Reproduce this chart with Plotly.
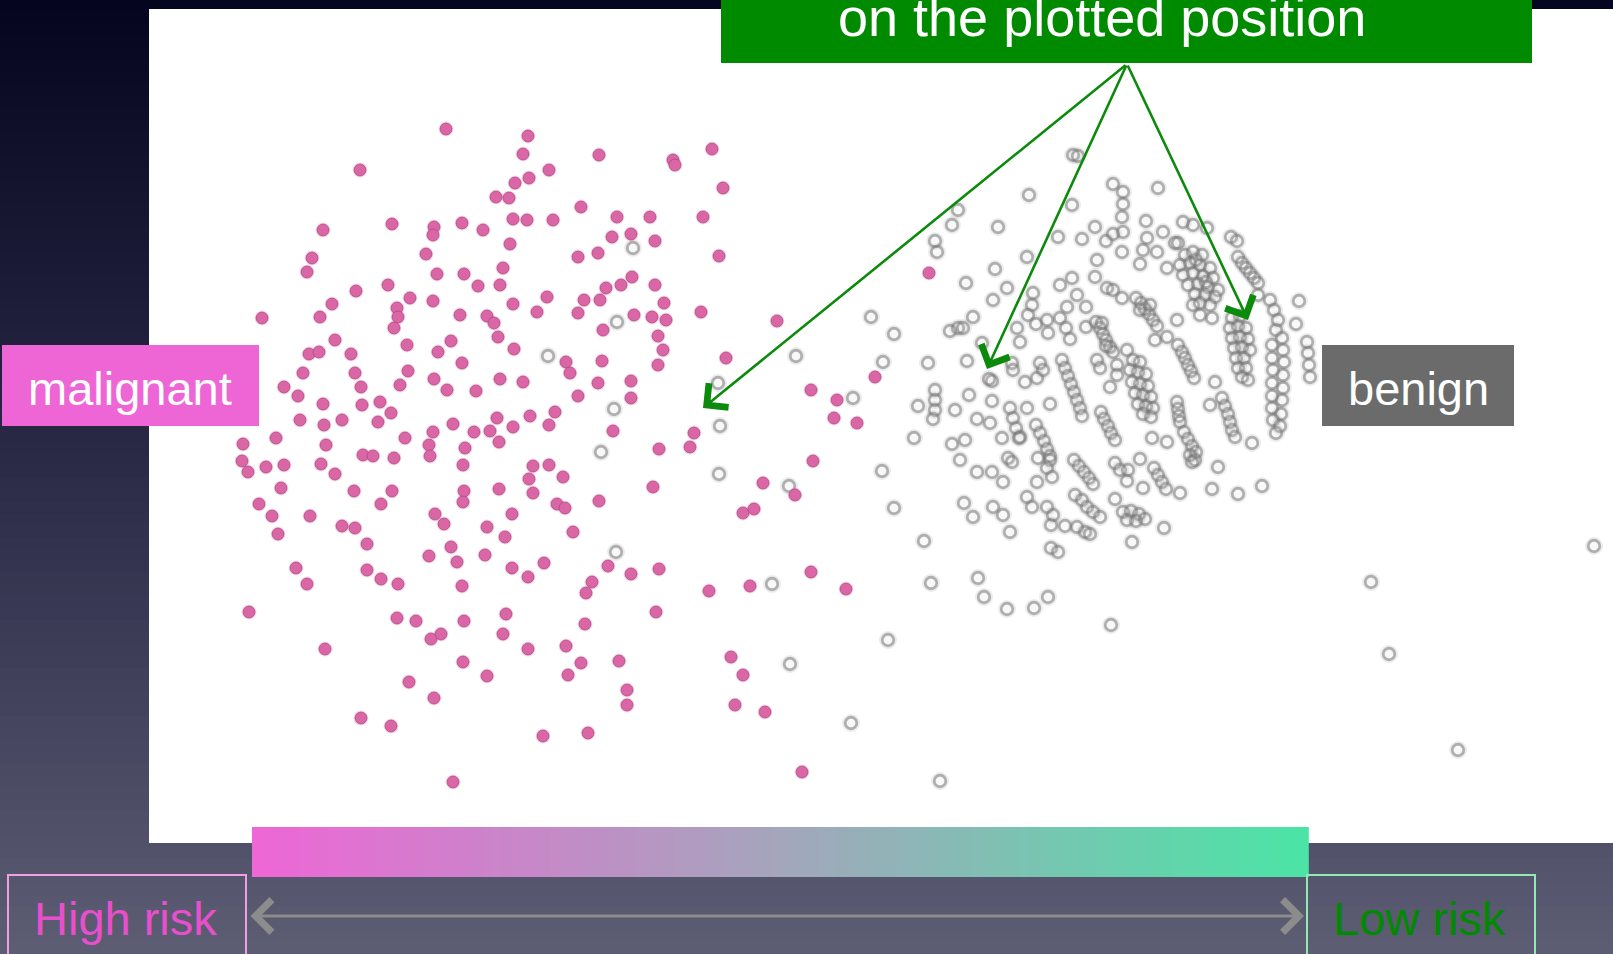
import plotly.graph_objects as go

W, H = 1613, 954

# ---- data (positions of each projected sample) ----
malignant_xy = [
    (446,129),(528,136),(523,154),(360,170),(549,170),(515,183),(529,178),(496,197),(509,198),(581,207),
    (323,230),(392,224),(434,227),(433,235),(462,223),(483,230),(513,219),(527,220),(553,220),(510,244),
    (426,254),(312,258),(307,272),(578,257),(437,274),(464,274),(503,268),(478,286),(500,285),(388,285),
    (356,291),(410,298),(433,301),(397,308),(398,317),(394,328),(332,304),(320,317),(262,318),(460,315),
    (487,316),(494,323),(513,304),(547,297),(537,312),(578,313),(584,300),(335,340),(309,354),(319,352),
    (407,345),(438,352),(451,341),(498,337),(514,349),(351,354),(566,362),(570,373),(303,373),(355,373),
    (408,371),(462,363),(434,379),(500,379),(523,382),(284,387),(298,396),(361,387),(400,385),(447,390),
    (476,391),(578,396),(323,404),(362,405),(380,402),(391,413),(300,420),(324,425),(342,420),(378,422),
    (453,424),(474,432),(490,431),(497,418),(513,427),(530,416),(555,412),(549,425),(433,432),(429,445),
    (276,438),(243,444),(326,445),(405,438),(465,448),(499,442),
    (242,461),(248,472),(266,467),(284,465),(321,464),(335,474),(363,455),(373,456),(394,458),(430,456),
    (463,465),(281,488),(354,491),(392,491),(259,504),(272,516),(310,516),(278,534),(381,504),(342,526),
    (355,528),(367,544),(435,514),(444,524),(464,491),(463,502),(499,489),(533,466),(549,465),(563,477),
    (529,479),(533,493),(557,504),(565,508),(512,514),(487,527),(505,537),(573,532),(451,547),(429,556),
    (457,562),(485,555),(512,568),(528,577),(544,563),(296,568),(307,584),(367,570),(381,579),(398,584),
    (462,586),(592,582),(586,593),(249,612),(397,618),(416,621),(431,639),(441,634),(464,621),(506,614),
    (503,634),(585,624),(325,649),(528,649),(566,646),(581,663),(568,675),(463,662),(487,676),(409,682),
    (434,698),(361,718),(391,726),(543,736),(588,733),(453,782),
    (599,155),(673,160),(675,165),(712,149),(723,188),(617,217),(650,217),(703,217),(612,237),(631,234),
    (655,241),(719,256),(598,253),(632,277),(621,285),(606,288),(655,285),(600,300),(664,303),(634,315),
    (652,317),(666,320),(701,312),(603,330),(658,336),(663,350),(658,365),(602,361),(726,358),(598,383),
    (631,381),(631,398),(613,431),(659,449),(694,433),(690,447),(777,321),(929,273),(875,377),(811,390),
    (837,400),(834,418),(857,423),
    (813,461),(653,487),(599,501),(763,483),(795,495),(743,513),(754,509),(608,566),(631,574),(659,569),
    (709,591),(750,586),(811,572),(846,589),(656,612),(619,661),(731,657),(743,675),(627,690),(627,705),
    (735,705),(765,712),(802,772),
]

benign_xy = [
    (548,356),(633,248),(617,322),(718,383),(614,409),(720,426),(601,452),(796,356),(871,317),(894,334),
    (883,362),(928,363),(853,398),(918,406),(935,390),(935,400),(935,410),(933,419),(914,438),(952,444),
    (955,410),(952,225),(958,210),(935,241),(937,252),(950,331),(958,328),(719,474),(789,486),(882,471),
    (894,508),(960,460),(924,541),(616,552),(772,584),(931,583),(888,640),(790,664),(851,723),(940,781),
    (1073,155),(1078,156),(1029,195),(1113,184),(1123,192),(1123,204),(1122,217),(1123,232),(1158,188),
    (1072,205),(998,227),(1058,237),(1082,239),(1095,227),(1106,241),(1113,234),(1122,252),(1146,221),
    (1163,232),(1183,222),(1193,225),(1207,228),(1147,238),(1143,250),(1157,252),(1167,268),(1175,243),
    (1178,243),(1140,264),(1231,237),(1237,241),(1027,257),(1097,260),(995,269),(966,283),(1007,288),
    (993,300),(1060,285),(1072,278),(1095,277),(1077,295),(1086,307),(1067,307),(1033,293),(1032,305),
    (1028,315),(1107,288),(1113,290),(1122,298),(973,317),(963,328),(1036,324),(1047,320),(1048,333),
    (1060,318),(1066,328),(1070,339),(1086,327),(1017,328),(1020,342),(982,343),(967,361),(992,381),
    (989,379),(992,401),(969,395),(977,419),(990,423),(1002,438),(1020,437),(965,440),(1012,363),
    (1013,370),(1025,382),(1037,378),(1043,370),(1040,363),(1050,404),(1027,408),
    (1193,305),(1200,315),(1212,318),(1177,320),(1258,295),(1155,340),(1167,337),(1127,350),(1097,360),
    (1100,368),(1117,365),(1117,375),(1110,387),(1215,382),(1210,405),(1252,443),(1152,438),(1167,442),
    # dense chains / ellipses
    (1185,255),(1193,252),(1202,255),(1180,265),(1190,263),(1200,265),(1210,268),(1183,275),(1193,273),
    (1203,276),(1213,278),(1188,285),(1198,284),(1208,287),(1218,290),(1195,294),(1205,295),(1215,297),
    (1200,303),(1210,305),(1196,260),(1206,282),
    (1238,257),(1242,263),(1246,268),(1250,273),(1254,278),(1258,283),
    (1232,318),(1240,316),(1230,328),(1238,326),(1246,328),(1232,338),(1240,337),(1248,339),(1234,348),
    (1242,347),(1250,350),(1236,358),(1244,358),(1238,368),(1246,368),(1242,377),(1248,380),
    (1276,330),(1282,338),(1272,345),(1283,350),(1272,358),(1284,362),(1273,370),(1283,375),(1272,383),
    (1283,388),(1272,396),(1282,400),(1272,408),(1281,414),(1273,420),(1280,426),(1276,433),
    (1270,300),(1274,310),(1278,320),
    (1299,301),(1296,324),(1307,342),(1308,353),(1309,365),(1310,377),
    (1136,298),(1141,303),(1145,309),(1149,314),(1153,320),(1157,326),(1140,310),(1150,305),
    (1096,322),(1100,328),(1103,334),(1106,340),(1110,347),(1113,352),(1102,323),(1106,346),
    (1133,360),(1140,362),(1130,370),(1138,372),(1146,374),(1132,382),(1140,384),(1148,386),(1135,393),
    (1143,395),(1151,397),(1138,404),(1146,406),(1153,408),(1143,414),(1151,417),
    (1178,345),(1182,352),(1185,358),(1188,365),(1191,371),(1194,378),
    (1222,398),(1225,406),(1228,414),(1230,422),(1232,430),(1235,437),
    (1101,412),(1104,419),(1108,426),(1111,433),(1115,440),
    (1177,402),(1178,409),(1179,416),(1180,422),
    (1184,432),(1188,439),(1192,446),(1196,452),
    (1062,360),(1065,368),(1068,376),(1071,384),(1074,392),(1077,400),(1080,408),(1082,416),
    (1036,425),(1040,433),(1044,441),(1047,449),(1050,456),
    (1010,408),(1013,418),(1016,428),(1019,438),
    # lower part of the benign cloud
    (1008,458),(1012,462),(1038,458),(1050,460),(1047,468),(1052,477),(1074,460),(1079,466),(1084,472),
    (1089,478),(1093,484),(1115,463),(1120,470),(1128,470),(1127,481),(1140,459),(1154,468),(1158,475),
    (1162,482),(1166,489),(1190,455),(1195,460),(1192,462),(1218,467),(1212,489),(1238,494),(1262,486),
    (1180,493),(1143,488),(1115,499),(1123,512),(1131,511),(1139,514),(1127,520),(1136,521),(1145,519),
    (1164,528),(1132,542),(1075,495),(1082,500),(1087,507),(1093,512),(1100,517),(1077,527),(1085,532),
    (1090,534),(1065,526),(1051,525),(1053,515),(1047,507),(1027,497),(1032,507),(1051,548),(1058,552),
    (977,472),(992,472),(1003,482),(1037,482),(964,503),(973,517),(993,507),(1003,515),(1010,532),
    (978,578),(984,597),(1007,609),(1034,608),(1048,597),(1111,625),
    (1594,546),(1371,582),(1389,654),(1458,750),
]

title_text = "on the plotted position"
class_labels = ["malignant", "benign"]
risk_labels = ["High risk", "Low risk"]
arrow_targets = [(703, 408), (987, 369), (1248, 320)]
arrow_source = (1127, 64)

mal_x = [p[0] for p in malignant_xy]
mal_y = [p[1] for p in malignant_xy]
ben_x = [p[0] for p in benign_xy]
ben_y = [p[1] for p in benign_xy]

FONT = "Liberation Sans, Arial, Helvetica, sans-serif"


def lerp(c1, c2, t):
    return tuple(round(a + (b - a) * t) for a, b in zip(c1, c2))


def multi(stops, t):
    for i in range(len(stops) - 1):
        t0, c0 = stops[i]
        t1, c1 = stops[i + 1]
        if t <= t1:
            return lerp(c0, c1, (t - t0) / (t1 - t0) if t1 > t0 else 0)
    return stops[-1][1]


shapes = []
# slide background: vertical dark gradient
bg_stops = [(0.0, (5, 5, 30)), (0.5, (44, 43, 72)), (1.0, (93, 93, 116))]
NB = 80
for i in range(NB):
    c = multi(bg_stops, (i + 0.5) / NB)
    shapes.append(dict(type="rect", xref="x", yref="y", x0=0, x1=W, y0=i * H / NB, y1=(i + 1) * H / NB + 1,
                       fillcolor="rgb(%d,%d,%d)" % c, line=dict(width=0), layer="below"))
# white chart panel
shapes.append(dict(type="rect", x0=149, x1=W, y0=9, y1=843, fillcolor="white", line=dict(width=0), layer="below"))
# colour bar pink -> green
bar_stops = [(0.0, (238, 102, 214)), (0.5, (164, 166, 188)), (1.0, (75, 229, 166))]
BX0, BX1, NS = 252, 1308, 110
for i in range(NS):
    c = multi(bar_stops, (i + 0.5) / NS)
    shapes.append(dict(type="rect", x0=BX0 + (BX1 - BX0) * i / NS, x1=BX0 + (BX1 - BX0) * (i + 1) / NS + 0.8,
                       y0=827, y1=877, fillcolor="rgb(%d,%d,%d)" % c, line=dict(width=0), layer="below"))
# title box, class boxes
shapes.append(dict(type="rect", x0=721, x1=1532, y0=-2, y1=63, fillcolor="#008a00", line=dict(width=0), layer="above"))
shapes.append(dict(type="rect", x0=2, x1=259, y0=345, y1=426, fillcolor="#ee66d6", line=dict(width=0), layer="above"))
shapes.append(dict(type="rect", x0=1322, x1=1514, y0=345, y1=426, fillcolor="#6b6b6b", line=dict(width=0), layer="above"))
# risk outline boxes
shapes.append(dict(type="rect", x0=8, x1=246, y0=875, y1=970, fillcolor="rgba(0,0,0,0)",
                   line=dict(color="#f29fe2", width=2), layer="above"))
shapes.append(dict(type="rect", x0=1307, x1=1535, y0=875, y1=970, fillcolor="rgba(0,0,0,0)",
                   line=dict(color="#93e8b6", width=2), layer="above"))

fig = go.Figure()
# soft halo under the benign rings (the original is slightly blurred)
fig.add_trace(go.Scatter(
    x=ben_x, y=ben_y, mode="markers", hoverinfo="skip",
    marker=dict(size=14, color="rgba(255,255,255,0)", line=dict(color="rgba(150,150,150,0.18)", width=4)),
))
fig.add_trace(go.Scatter(
    x=ben_x, y=ben_y, mode="markers", hoverinfo="skip",
    marker=dict(size=11.5, color="rgba(200,200,200,0.12)", line=dict(color="rgba(115,115,115,0.5)", width=2.8)),
))
fig.add_trace(go.Scatter(
    x=mal_x, y=mal_y, mode="markers", hoverinfo="skip",
    marker=dict(size=15, color="rgba(210,110,160,0.22)", line=dict(width=0)),
))
fig.add_trace(go.Scatter(
    x=mal_x, y=mal_y, mode="markers", hoverinfo="skip",
    marker=dict(size=12, color="#da66a6", line=dict(color="rgba(170,70,130,0.75)", width=1)),
))

ann = []
ann.append(dict(x=1102, y=17, text=title_text, showarrow=False, xanchor="center", yanchor="middle",
                font=dict(family=FONT, size=54, color="white")))
ann.append(dict(x=130, y=388, text=class_labels[0], showarrow=False, xanchor="center", yanchor="middle",
                font=dict(family=FONT, size=47, color="white")))
ann.append(dict(x=1418, y=388, text=class_labels[1], showarrow=False, xanchor="center", yanchor="middle",
                font=dict(family=FONT, size=47, color="white")))
ann.append(dict(x=125, y=918, text=risk_labels[0], showarrow=False, xanchor="center", yanchor="middle",
                font=dict(family=FONT, size=47, color="#e84fcc")))
ann.append(dict(x=1419, y=918, text=risk_labels[1], showarrow=False, xanchor="center", yanchor="middle",
                font=dict(family=FONT, size=47, color="#008a00")))
for tx, ty in arrow_targets:
    ann.append(dict(x=tx, y=ty, ax=arrow_source[0], ay=arrow_source[1], xref="x", yref="y", axref="x", ayref="y",
                    text="", showarrow=True, arrowhead=4, arrowsize=2.3, arrowwidth=2.6, arrowcolor="#0c8a0c",
                    standoff=0, startstandoff=0))
ann.append(dict(x=1304, y=916, ax=249, ay=916, xref="x", yref="y", axref="x", ayref="y", text="",
                showarrow=True, arrowside="end+start", arrowhead=4, startarrowhead=4, arrowsize=2.1,
                startarrowsize=2.1, arrowwidth=3, arrowcolor="#8c8c8c", standoff=0, startstandoff=0))

fig.update_layout(
    width=W, height=H, margin=dict(l=0, r=0, t=0, b=0),
    paper_bgcolor="#05051e", plot_bgcolor="rgba(0,0,0,0)",
    showlegend=False, shapes=shapes, annotations=ann,
    xaxis=dict(range=[0, W], visible=False, fixedrange=True),
    yaxis=dict(range=[H, 0], visible=False, fixedrange=True),
)

fig.write_html("out.html", config={"displayModeBar": False, "staticPlot": True},
               post_script="document.body.style.margin='0';document.body.style.overflow='hidden';")
